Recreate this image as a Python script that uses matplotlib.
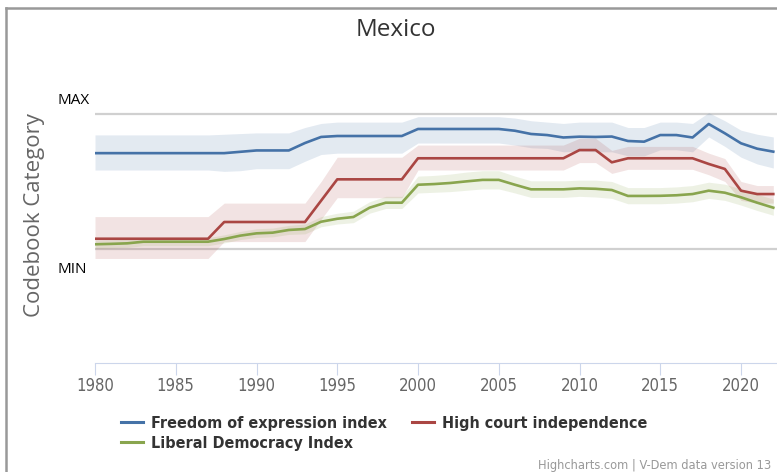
import matplotlib.pyplot as plt
from matplotlib.lines import Line2D
import matplotlib.transforms as mtransforms
from matplotlib import font_manager

years = list(range(1980, 2023))

# Freedom of expression index
foe = [0.71, 0.71, 0.71, 0.71, 0.71, 0.71, 0.71, 0.71, 0.71, 0.72,
       0.73, 0.73, 0.73, 0.785, 0.83, 0.837, 0.837, 0.837, 0.837, 0.837,
       0.889, 0.889, 0.889, 0.889, 0.889, 0.889, 0.876, 0.852, 0.844, 0.826,
       0.832, 0.830, 0.833, 0.80, 0.795, 0.844, 0.844, 0.826, 0.926, 0.857,
       0.783, 0.743, 0.721]
foe_high = [0.845, 0.845, 0.845, 0.845, 0.845, 0.845, 0.845, 0.845, 0.85, 0.855,
            0.86, 0.86, 0.86, 0.90, 0.93, 0.94, 0.94, 0.94, 0.94, 0.94,
            0.98, 0.98, 0.98, 0.98, 0.98, 0.98, 0.97, 0.95, 0.94, 0.93,
            0.94, 0.94, 0.94, 0.90, 0.90, 0.94, 0.94, 0.93, 1.01, 0.95,
            0.88, 0.85, 0.83]
foe_low = [0.585, 0.585, 0.585, 0.585, 0.585, 0.585, 0.585, 0.585, 0.575, 0.58,
           0.595, 0.595, 0.595, 0.65, 0.70, 0.71, 0.71, 0.71, 0.71, 0.71,
           0.785, 0.785, 0.785, 0.785, 0.785, 0.785, 0.77, 0.75, 0.745, 0.72,
           0.725, 0.72, 0.72, 0.69, 0.69, 0.735, 0.735, 0.72, 0.83, 0.76,
           0.68, 0.63, 0.60]

# High court independence
hci = [0.076, 0.076, 0.076, 0.076, 0.076, 0.076, 0.076, 0.076, 0.20, 0.20,
       0.20, 0.20, 0.20, 0.20, 0.358, 0.516, 0.516, 0.516, 0.516, 0.516,
       0.672, 0.672, 0.672, 0.672, 0.672, 0.672, 0.672, 0.672, 0.672, 0.672,
       0.733, 0.733, 0.642, 0.672, 0.672, 0.672, 0.672, 0.672, 0.63, 0.593,
       0.432, 0.407, 0.407]
hci_high = [0.24, 0.24, 0.24, 0.24, 0.24, 0.24, 0.24, 0.24, 0.34, 0.34,
            0.34, 0.34, 0.34, 0.34, 0.50, 0.68, 0.68, 0.68, 0.68, 0.68,
            0.77, 0.77, 0.77, 0.77, 0.77, 0.77, 0.77, 0.77, 0.77, 0.77,
            0.82, 0.82, 0.73, 0.76, 0.76, 0.76, 0.76, 0.76, 0.71, 0.67,
            0.50, 0.47, 0.47]
hci_low = [-0.07, -0.07, -0.07, -0.07, -0.07, -0.07, -0.07, -0.07, 0.055, 0.055,
           0.055, 0.055, 0.055, 0.055, 0.22, 0.38, 0.38, 0.38, 0.38, 0.38,
           0.585, 0.585, 0.585, 0.585, 0.585, 0.585, 0.585, 0.585, 0.585, 0.585,
           0.64, 0.64, 0.56, 0.59, 0.59, 0.59, 0.59, 0.59, 0.55, 0.50,
           0.36, 0.34, 0.34]

# Liberal Democracy Index
ldi = [0.035, 0.038, 0.042, 0.054, 0.054, 0.054, 0.054, 0.054, 0.074, 0.099,
       0.116, 0.121, 0.141, 0.148, 0.202, 0.224, 0.237, 0.306, 0.343, 0.343,
       0.476, 0.481, 0.489, 0.501, 0.512, 0.512, 0.476, 0.442, 0.442, 0.442,
       0.449, 0.446, 0.437, 0.393, 0.393, 0.394, 0.398, 0.407, 0.432, 0.417,
       0.383, 0.343, 0.306]
ldi_high = [0.065, 0.068, 0.072, 0.084, 0.084, 0.084, 0.084, 0.084, 0.105, 0.13,
            0.15, 0.155, 0.175, 0.185, 0.24, 0.265, 0.28, 0.35, 0.39, 0.39,
            0.54, 0.545, 0.555, 0.57, 0.58, 0.58, 0.54, 0.505, 0.505, 0.505,
            0.51, 0.51, 0.50, 0.455, 0.455, 0.455, 0.46, 0.47, 0.495, 0.48,
            0.445, 0.405, 0.37]
ldi_low = [0.005, 0.008, 0.012, 0.024, 0.024, 0.024, 0.024, 0.024, 0.045, 0.07,
           0.085, 0.09, 0.108, 0.112, 0.165, 0.185, 0.195, 0.265, 0.30, 0.30,
           0.415, 0.42, 0.425, 0.435, 0.445, 0.445, 0.415, 0.382, 0.382, 0.382,
           0.39, 0.385, 0.375, 0.335, 0.335, 0.335, 0.34, 0.35, 0.375, 0.36,
           0.325, 0.285, 0.25]

series = [
    ("Freedom of expression index", foe, foe_low, foe_high, "#4572A7"),
    ("High court independence", hci, hci_low, hci_high, "#AA4643"),
    ("Liberal Democracy Index", ldi, ldi_low, ldi_high, "#89A54E"),
]

# condensed face if the DejaVu condensed files are there, else plain DejaVu
have_cond = any("Condensed" in f.fname for f in font_manager.fontManager.ttflist
                if f.name == "DejaVu Sans")
stretch = "condensed" if have_cond else "normal"
shrink = 1.0 if have_cond else 0.9

W, H = 777, 472
fig = plt.figure(figsize=(W / 100, H / 100), dpi=100)
ax = fig.add_axes([95 / W, 1 - 363 / H, (W - 95) / W, (363 - 80) / H])

for name, vals, low, high, col in series:
    ax.fill_between(years, low, high, color=col, alpha=0.15, linewidth=0)
for name, vals, low, high, col in series:
    ax.plot(years, vals, color=col, lw=1.9, label=name, solid_joinstyle='round')

ax.set_xlim(1980, 1980 + (W - 95) / 16.15)
ax.set_ylim(-114 / 135, 169 / 135)

# MAX / MIN reference lines
for v in (0, 1):
    ax.axhline(v, color="#d0d0d0", lw=1.6, zorder=0)
ax.set_yticks([])
trans = mtransforms.blended_transform_factory(fig.transFigure, ax.transData)
ax.text(57 / W, 1.10, "MAX", transform=trans, fontsize=11, family="Open Sans", va="center")
ax.text(57 / W, -0.155, "MIN", transform=trans, fontsize=11, family="Open Sans", va="center")

for s in ("top", "right", "left"):
    ax.spines[s].set_visible(False)
ax.spines["bottom"].set_color("#ccd6eb")
ax.set_xticks(list(range(1980, 2021, 5)))
ax.tick_params(axis="x", direction="out", length=8.5, color="#ccd6eb", labelcolor="#666666",
               labelsize=12 * shrink, pad=1.5)
for lab in ax.get_xticklabels():
    lab.set_family("DejaVu Sans")
    lab.set_stretch(stretch)

fig.text(35 / W, 1 - 215 / H, "Codebook Category", rotation=90, ha="center", va="center",
         fontsize=16, color="#666666", family="Open Sans")
fig.text(396 / W, 1 - 30 / H, "Mexico", ha="center", va="center", fontsize=17.5,
         color="#333333", family="Open Sans")

handles = [Line2D([], [], color=c, lw=2.2) for _, _, _, _, c in series]
labels = [n for n, _, _, _, _ in series]
order = [0, 2, 1]
leg_font = font_manager.FontProperties(family="DejaVu Sans", weight="bold",
                                       stretch=stretch, size=11.5 * shrink)
fig.legend([handles[i] for i in order], [labels[i] for i in order], ncol=2,
           loc="upper left", bbox_to_anchor=(121 / W, 1 - 416 / H), frameon=False,
           prop=leg_font, handlelength=1.35, handletextpad=0.5, columnspacing=1.6,
           labelspacing=0.3, labelcolor="#333333", borderpad=0, borderaxespad=0)

fig.text(771 / W, 1 - 465 / H, "Highcharts.com | V-Dem data version 13", ha="right",
         va="center", fontsize=9.2 * shrink, color="#999999", family="DejaVu Sans",
         stretch=stretch)

# outer frame (left and top edges visible)
fig.add_artist(Line2D([5.5 / W, 5.5 / W], [0, 1 - 8 / H], color="#999999", lw=1.8,
                      transform=fig.transFigure))
fig.add_artist(Line2D([5.5 / W, 1], [1 - 8 / H, 1 - 8 / H], color="#999999", lw=1.8,
                      transform=fig.transFigure))

fig.savefig("out.png", dpi=100)
